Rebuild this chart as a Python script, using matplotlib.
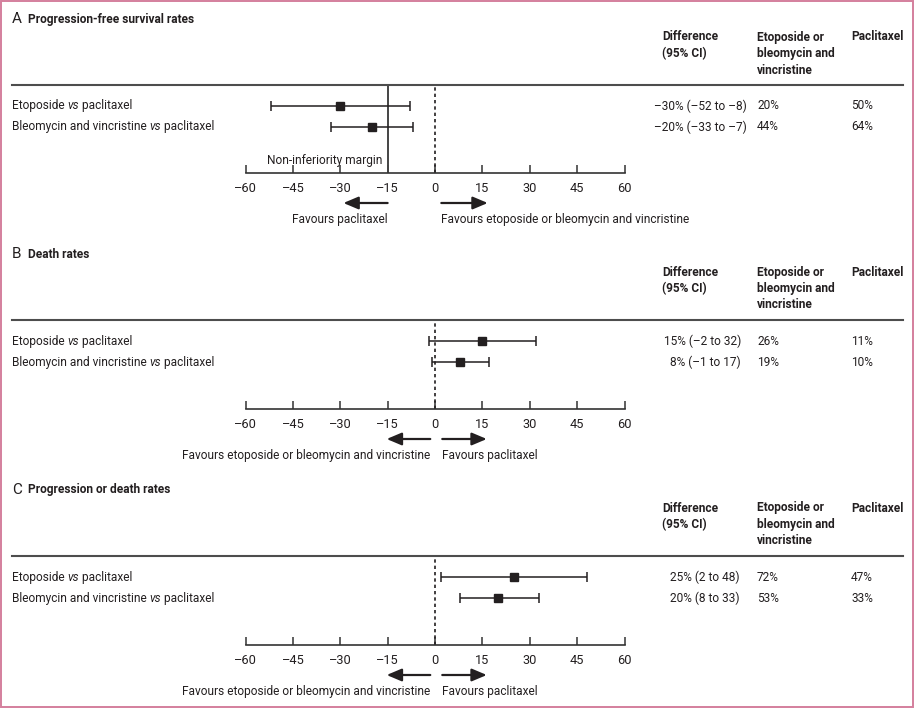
import numpy as np
import matplotlib.pyplot as plt
from matplotlib.lines import Line2D
from matplotlib.patches import Rectangle

plt.rcParams['font.family'] = ['Roboto', 'DejaVu Sans']

# data
comparisons = ["Etoposide", "Bleomycin and vincristine"]
panel_letters = ["A", "B", "C"]
panel_titles = ["Progression-free survival rates", "Death rates", "Progression or death rates"]

pfs_diff = [-30, -20]
pfs_lo = [-52, -33]
pfs_hi = [-8, -7]
pfs_exp = [20, 44]
pfs_pac = [50, 64]

death_diff = [15, 8]
death_lo = [-2, -1]
death_hi = [32, 17]
death_exp = [26, 19]
death_pac = [11, 10]

prog_diff = [25, 20]
prog_lo = [2, 8]
prog_hi = [48, 33]
prog_exp = [72, 53]
prog_pac = [47, 33]

ticks = [-60, -45, -30, -15, 0, 15, 30, 45, 60]
margin = -15

favours_left = ["Favours paclitaxel",
                "Favours etoposide or bleomycin and vincristine",
                "Favours etoposide or bleomycin and vincristine"]
favours_right = ["Favours etoposide or bleomycin and vincristine",
                 "Favours paclitaxel",
                 "Favours paclitaxel"]

W, H = 916, 709
fig = plt.figure(figsize=(W / 100, H / 100), dpi=100)
INK = '#231f20'
FS = 8.6


def fx(x):
    return x / W


def fy(y):
    return 1 - y / H


def fmt(v):
    return f"{v:.0f}".replace('-', '\u2013')


def pct(v):
    return f"{v}%".replace('-', '\u2013')


# layout (pixel positions) per panel
tops = [19, 254, 490]
hlines = [85, 320, 556]
axis_ys = [173, 409, 645]
diff_right = [747, 741, 739]
# arrows: (left tail, left tip, right tail, right tip) in data units
arrows = [(-15, -29, 2, 16.7), (-1.5, -15.3, 2.3, 16.4), (-1.5, -15.3, 2.3, 16.4)]

panels = [
    (pfs_diff, pfs_lo, pfs_hi, pfs_exp, pfs_pac),
    (death_diff, death_lo, death_hi, death_exp, death_pac),
    (prog_diff, prog_lo, prog_hi, prog_exp, prog_pac),
]

for i, (diff, lo, hi, exp_r, pac_r) in enumerate(panels):
    t = tops[i]
    hl = hlines[i]
    ay = axis_ys[i]

    # panel title
    fig.text(fx(12), fy(t), panel_letters[i], fontsize=11, color=INK, va='center')
    fig.text(fx(28), fy(t), panel_titles[i], fontsize=FS, fontweight='bold', color=INK, va='center')

    # column headers
    hy = t + 18
    fig.text(fx(662), fy(hy), "Difference", fontsize=FS, fontweight='bold', color=INK, va='center')
    fig.text(fx(662), fy(hy + 16.5), "(95% CI)", fontsize=FS, fontweight='bold', color=INK, va='center')
    for k, line in enumerate(["Etoposide or", "bleomycin and", "vincristine"]):
        fig.text(fx(757), fy(hy + 16.5 * k), line, fontsize=FS, fontweight='bold', color=INK, va='center')
    fig.text(fx(851), fy(hy), "Paclitaxel", fontsize=FS, fontweight='bold', color=INK, va='center')

    fig.add_artist(Line2D([fx(12), fx(903)], [fy(hl), fy(hl)], color='#4d4d4d', lw=1.5))

    # forest axes
    ax = fig.add_axes([fx(245.5), fy(ay), fx(624.5) - fx(245.5), fy(hl) - fy(ay)])
    ax.set_xlim(-60, 60)
    ax.set_ylim(4.2, 0)
    ax.patch.set_alpha(0)
    for s in ['top', 'left', 'right']:
        ax.spines[s].set_visible(False)
    ax.spines['bottom'].set_color('#333333')
    ax.spines['bottom'].set_linewidth(1.2)
    ax.set_yticks([])
    ax.set_xticks(ticks)
    ax.set_xticklabels([fmt(v) for v in ticks])
    ax.tick_params(axis='x', direction='in', length=6, width=1.1, color='#333333',
                   labelsize=FS + 0.6, labelcolor=INK, pad=6.5)

    ax.axvline(0, color=INK, lw=1.2, ls=(0, (2, 1.8)))
    if i == 0:
        ax.axvline(margin, color='#444444', lw=1.4)
        ax.text(-16.6, 3.6, "Non-inferiority margin", fontsize=FS, color=INK,
                ha='right', va='center')

    y = np.arange(1, len(diff) + 1)
    d = np.array(diff)
    ax.errorbar(d, y, xerr=[d - np.array(lo), np.array(hi) - d], fmt='s', color=INK,
                ms=5.5, capsize=3.5, elinewidth=1.1, capthick=1.1)

    # arrows and favours text
    ah_px = ay - hl
    arrow_f = -30 / ah_px
    text_f = -47 / ah_px
    trans = ax.get_xaxis_transform()
    lt, ltip, rt, rtip = arrows[i]
    aprops = dict(arrowstyle='-|>,head_length=0.9,head_width=0.38', color=INK, lw=1.6,
                  mutation_scale=10, shrinkA=0, shrinkB=0)
    ax.annotate('', xy=(ltip, arrow_f), xytext=(lt, arrow_f), xycoords=trans,
                textcoords=trans, arrowprops=aprops, annotation_clip=False)
    ax.annotate('', xy=(rtip, arrow_f), xytext=(rt, arrow_f), xycoords=trans,
                textcoords=trans, arrowprops=aprops, annotation_clip=False)
    ax.text(lt, text_f, favours_left[i], transform=trans, ha='right', va='center',
            fontsize=FS, color=INK)
    ax.text(rt, text_f, favours_right[i], transform=trans, ha='left', va='center',
            fontsize=FS, color=INK)

    # row labels and table values
    for j, name in enumerate(comparisons):
        ry = hl + ah_px * (j + 1) / 4.2
        t1 = fig.text(fx(12), fy(ry), name + " ", fontsize=FS, color=INK, va='center')
        t2 = plt.annotate("vs", xy=(1, 0), xycoords=t1, va='bottom', ha='left',
                          fontsize=FS, color=INK, style='italic', annotation_clip=False)
        plt.annotate(" paclitaxel", xy=(1, 0), xycoords=t2, va='bottom', ha='left',
                     fontsize=FS, color=INK, annotation_clip=False)
        fig.text(fx(diff_right[i]), fy(ry),
                 f"{pct(diff[j])} ({fmt(lo[j])} to {fmt(hi[j])})",
                 fontsize=FS, color=INK, va='center', ha='right')
        fig.text(fx(757), fy(ry), pct(exp_r[j]), fontsize=FS, color=INK, va='center')
        fig.text(fx(851), fy(ry), pct(pac_r[j]), fontsize=FS, color=INK, va='center')

fig.add_artist(Rectangle((fx(0.8), fy(706.5)), fx(913) - fx(0.8), fy(0.8) - fy(706.5),
                         transform=fig.transFigure, fill=False, ec='#d47f9d', lw=1.4))

fig.savefig('out.png', dpi=100)
